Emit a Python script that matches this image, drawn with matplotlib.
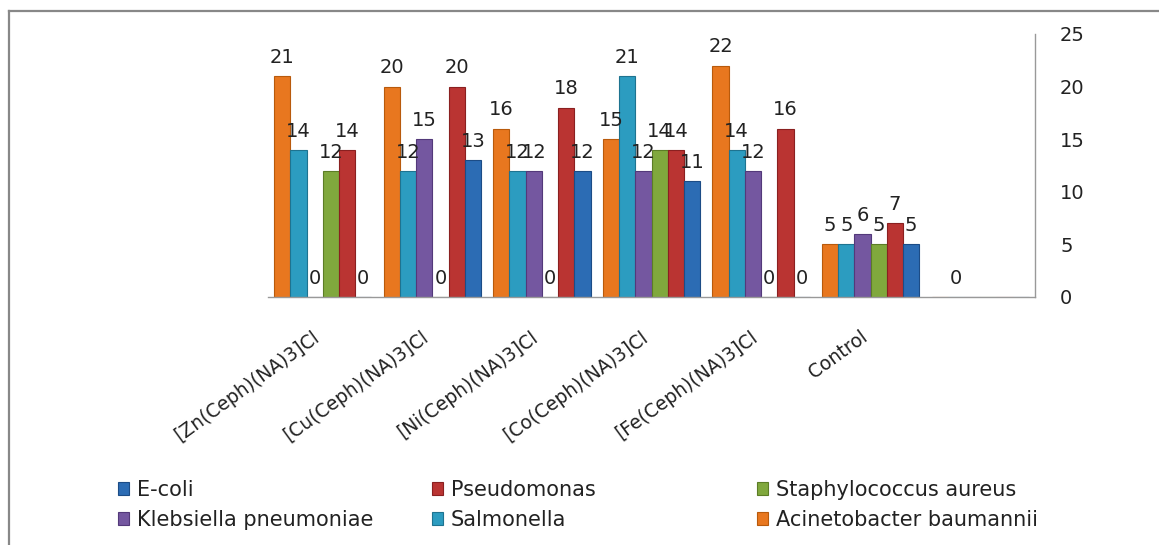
import numpy as np
import matplotlib
matplotlib.use("Agg")
import matplotlib.pyplot as plt
from matplotlib.lines import Line2D
from matplotlib.patches import Patch

# ============================================================
# Data (zone of inhibition, mm)
# ============================================================

compounds = ["[Zn(Ceph)(NA)3]Cl", "[Cu(Ceph)(NA)3]Cl", "[Ni(Ceph)(NA)3]Cl",
             "[Co(Ceph)(NA)3]Cl", "[Fe(Ceph)(NA)3]Cl", "Control", ""]

nan = np.nan
acinetobacter = [21, 20, 16, 15, 22, 5, nan]
salmonella    = [14, 12, 12, 21, 14, 5, 0]
klebsiella    = [0, 15, 12, 12, 12, 6, nan]
staph         = [12, 0, 0, 14, 0, 5, nan]
pseudomonas   = [14, 20, 18, 14, 16, 7, nan]
ecoli         = [0, 13, 12, 11, 0, 5, nan]

# drawing order inside each group (left to right)
series = [
    ("Acinetobacter baumannii", acinetobacter, "#E8771F", "#B85A0C"),
    ("Salmonella",              salmonella,    "#2C9CC0", "#1E7390"),
    ("Klebsiella pneumoniae",   klebsiella,    "#7457A0", "#53397A"),
    ("Staphylococcus aureus",   staph,         "#80A83D", "#5C7D26"),
    ("Pseudomonas",             pseudomonas,   "#BA3432", "#8A2020"),
    ("E-coli",                  ecoli,         "#2C6CB4", "#1C4C86"),
]

# ============================================================
# Figure
# ============================================================

plt.rcParams["font.family"] = ["DejaVu Sans"]
FS = 14
FS_TICK = 13.5
FS_LEG = 15

W, H = 1159, 545
fig = plt.figure(figsize=(W / 100, H / 100), dpi=100)
ax = fig.add_axes([268 / W, 1 - 297 / H, 767 / W, 263 / H])

x = np.arange(len(compounds))
bw = 0.148
for i, (name, vals, fc, ec) in enumerate(series):
    vals = np.array(vals, dtype=float)
    pos = x + (i - 2.5) * bw
    ax.bar(pos, np.nan_to_num(vals), bw, color=fc, edgecolor=ec, linewidth=0.8, zorder=2)
    for px, v in zip(pos, vals):
        if np.isnan(v):
            continue
        ax.annotate(f"{int(v)}", (px, v), xytext=(0, 9.5), textcoords="offset points",
                    ha="center", va="baseline", fontsize=FS, color="#222222")

ax.set_xlim(-0.5, len(compounds) - 0.5)
ax.set_ylim(0, 25)
ax.set_yticks(np.arange(0, 26, 5))

ax.spines["top"].set_visible(False)
ax.spines["left"].set_visible(False)
for s in ("bottom", "right"):
    ax.spines[s].set_color("#999999")
    ax.spines[s].set_linewidth(1.0)

ax.yaxis.tick_right()
ax.tick_params(axis="y", length=0, pad=18, labelsize=FS, labelcolor="#222222")
ax.set_xticks(x)
ax.set_xticklabels(compounds, rotation=36, ha="right", fontsize=FS_TICK, color="#222222")
ax.tick_params(axis="x", length=0, pad=22)

# ============================================================
# Legend (three columns, two rows)
# ============================================================

lookup = {name: (fc, ec) for name, _, fc, ec in series}
columns = [["E-coli", "Klebsiella pneumoniae"],
           ["Pseudomonas", "Salmonella"],
           ["Staphylococcus aureus", "Acinetobacter baumannii"]]
col_x = [118, 432, 757]
for cx, names in zip(col_x, columns):
    handles = [Patch(facecolor=lookup[n][0], edgecolor=lookup[n][1], linewidth=0.8) for n in names]
    leg = fig.legend(handles, names, loc="upper left", bbox_to_anchor=(cx / W, 1 - 480 / H),
                     frameon=False, fontsize=FS_LEG, handlelength=0.55, handleheight=0.55,
                     handletextpad=0.35, labelspacing=0.48, borderpad=0, borderaxespad=0)
    for t in leg.get_texts():
        t.set_color("#222222")

# chart area border (top and left edges visible)
fig.add_artist(Line2D([9 / W, 9 / W], [0, 1 - 11 / H], transform=fig.transFigure,
                      color="#888888", linewidth=1.6))
fig.add_artist(Line2D([9 / W, 1], [1 - 11 / H, 1 - 11 / H], transform=fig.transFigure,
                      color="#888888", linewidth=1.6))

fig.savefig("out.png", dpi=100, facecolor="white")
